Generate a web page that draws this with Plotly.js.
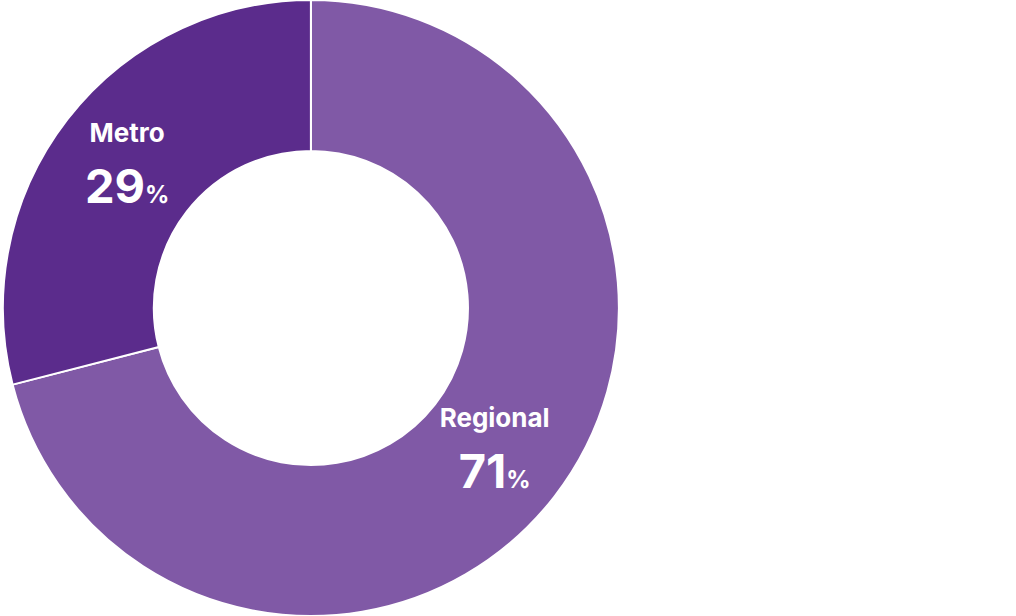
<!DOCTYPE html>
<html>
<head>
<meta charset="utf-8">
<script src="https://cdn.plot.ly/plotly-3.0.1.min.js"></script>
<style>html,body{margin:0;padding:0;background:#fff;}#chart{width:1016px;height:616px;}</style>
</head>
<body>
<div id="chart"></div>
<script>
const labels = ["Regional", "Metro"];
const values = [71, 29];
const colors = ["#8059a6", "#5b2c8c"];

const trace = {
  type: "pie",
  labels: labels,
  values: values,
  customdata: values,
  hole: 0.51,
  sort: false,
  direction: "clockwise",
  rotation: 0,
  marker: {colors: colors, line: {color: "#ffffff", width: 2}},
  textposition: "inside",
  insidetextorientation: "horizontal",
  texttemplate: "<b><span style='font-size:26px'>%{label}</span></b><br><b>%{customdata}</b><b><span style='font-size:24px'>%</span></b>",
  textfont: {family: "Inter, 'Open Sans', sans-serif", size: 47, color: "#ffffff"},
  hoverinfo: "label+percent",
  domain: {x: [0, 0.612], y: [0, 1]},
  showlegend: false
};

Plotly.newPlot("chart", [trace], {
  width: 1016, height: 616,
  margin: {l: 0, r: 0, t: 0, b: 0},
  paper_bgcolor: "#ffffff",
  plot_bgcolor: "#ffffff",
  showlegend: false
}, {displayModeBar: false, staticPlot: true});
</script>
</body>
</html>
